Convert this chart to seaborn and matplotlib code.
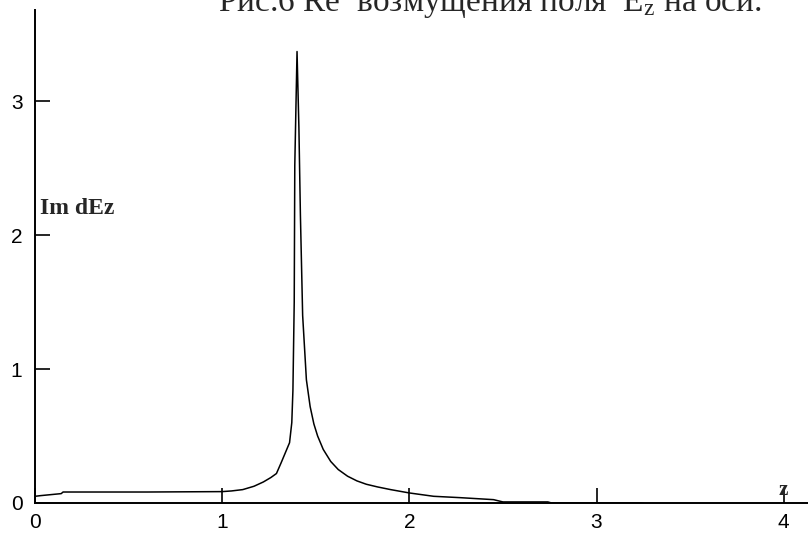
import numpy as np
import pandas as pd
import matplotlib
matplotlib.use("Agg")
import matplotlib.pyplot as plt
import seaborn as sns

# Im dEz along the axis
z_vals = [0.0, 0.03, 0.14, 0.15, 0.6, 1.0, 1.05, 1.11, 1.17, 1.22, 1.26, 1.29,
          1.315, 1.345, 1.36, 1.372, 1.378, 1.385, 1.388, 1.40, 1.41, 1.418,
          1.43, 1.45, 1.47, 1.49, 1.51, 1.54, 1.58, 1.62, 1.67, 1.72, 1.77,
          1.83, 1.9, 2.0, 2.13, 2.27, 2.45, 2.5, 2.74, 2.76, 3.24, 3.26, 4.13]
im_dez = [0.05, 0.055, 0.07, 0.082, 0.082, 0.085, 0.09, 0.10, 0.125, 0.157,
          0.19, 0.22, 0.30, 0.40, 0.45, 0.60, 0.84, 1.5, 2.52, 3.37, 2.8, 2.15,
          1.4, 0.92, 0.72, 0.59, 0.50, 0.40, 0.31, 0.25, 0.20, 0.165, 0.14,
          0.12, 0.10, 0.075, 0.05, 0.04, 0.025, 0.008, 0.008, 0.0, 0.0,
          -0.006, -0.006]

x_ticks = [0, 1, 2, 3, 4]
y_ticks = [0, 1, 2, 3]
y_label = "Im dEz"
x_label = "z"
title = r"Рис.6 Re  возмущения поля  E$\mathregular{_z}$ на оси."

sns.set_style("white")
plt.rcParams['font.family'] = ['Liberation Sans', 'DejaVu Sans']

fig = plt.figure(figsize=(8.08, 5.36), dpi=100)
ax = fig.add_axes([35 / 808, 33 / 536, 773 / 808, 493 / 536])

df = pd.DataFrame({"z": z_vals, "v": im_dez})
sns.lineplot(data=df, x="z", y="v", ax=ax, color="black", linewidth=1.1,
             sort=False, estimator=None)

ax.set_xlim(0, 4.13)
ax.set_ylim(0, 3.68)
ax.set_xticks(x_ticks)
ax.set_yticks(y_ticks)
ax.set_xlabel("")
ax.set_ylabel("")
for s in ["top", "right"]:
    ax.spines[s].set_visible(False)
for s in ["left", "bottom"]:
    ax.spines[s].set_linewidth(1.4)
    ax.spines[s].set_color("black")
ax.tick_params(bottom=True, left=True, direction="in", length=11, width=1.2,
               colors="black", labelsize=15)
ax.tick_params(axis="x", pad=7)
ax.tick_params(axis="y", pad=9)

ax.text(0.027, 2.2, y_label, fontsize=17, fontweight="bold",
        family="Liberation Serif", va="center", ha="left")
ax.text(4.0, 0.02, x_label, fontsize=15, fontweight="bold",
        family="Liberation Serif", va="bottom", ha="center")

fig.text(218 / 808, 1 - 11 / 536, title, fontsize=24, family="Liberation Serif",
         va="baseline", ha="left")

fig.savefig("out.png", dpi=100)
